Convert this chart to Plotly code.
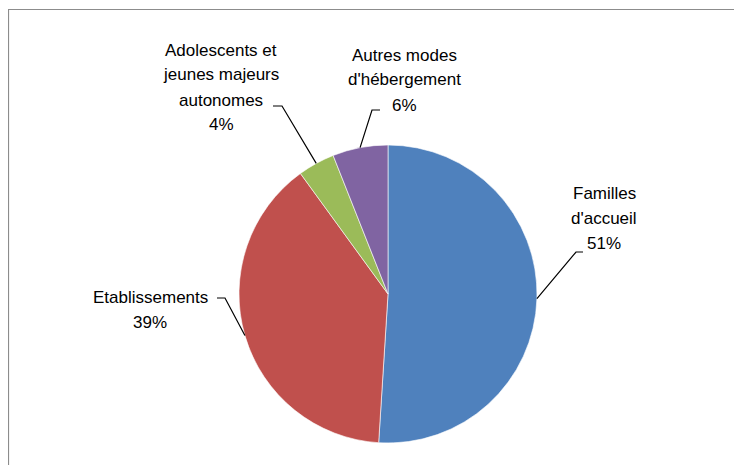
import math
import plotly.graph_objects as go

labels = ["Familles d'accueil", "Etablissements", "Adolescents et jeunes majeurs autonomes", "Autres modes d'hébergement"]
values = [51, 39, 4, 6]
label_lines = [["Familles", "d'accueil", "51%"],
               ["Etablissements", "39%"],
               ["Adolescents et", "jeunes majeurs", "autonomes", "4%"],
               ["Autres modes", "d'hébergement", "6%"]]
colors = ["#4F81BD", "#C0504D", "#9BBB59", "#8064A2"]

W, H = 742, 465
OFF = 8  # page offset of the plot div
CX, CY, R = 388, 294, 149

# label layout: (text center x, first line y), elbow (x, y), horizontal end x
label_pos = [(604, 193), (150, 297), (221, 50), (405, 55)]
elbows = [((576, 252), 583), ((225, 298), 217), ((282, 106), 273), ((372, 110), 380)]
LINE_H = 25

def px(x):
    return (x - OFF) / W

def py(y):
    return 1 - (y - OFF) / H

fig = go.Figure(go.Pie(
    labels=labels, values=values, sort=False, direction="clockwise", rotation=0,
    marker=dict(colors=colors, line=dict(color="white", width=0.6)),
    textinfo="none", hoverinfo="label+percent", showlegend=False,
    domain=dict(x=[px(CX - R), px(CX + R)], y=[py(CY + R), py(CY - R)]),
))

# chart-area frame: only its left and top edges fall inside the picture
frame = f"M {px(8.5)},{py(H + 40)} L {px(8.5)},{py(9.5)} L {px(W + 40)},{py(9.5)}"
shapes = [dict(type="path", xref="paper", yref="paper", path=frame,
               line=dict(color="#8C8C8C", width=1.2))]
annotations = []
total = sum(values)
cum = 0
for i, v in enumerate(values):
    mid = (cum + v / 2) / total * 2 * math.pi
    cum += v
    ex = CX + R * math.sin(mid)
    ey = CY - R * math.cos(mid)
    (bx, by), hx = elbows[i]
    path = f"M {px(ex)},{py(ey)} L {px(bx)},{py(by)} L {px(hx)},{py(by)}"
    shapes.append(dict(type="path", xref="paper", yref="paper", path=path,
                       line=dict(color="black", width=1.2)))
    tx, ty = label_pos[i]
    for j, line in enumerate(label_lines[i]):
        annotations.append(dict(x=px(tx), y=py(ty + j * LINE_H), xref="paper", yref="paper",
                                text=line, showarrow=False, xanchor="center", yanchor="middle",
                                font=dict(family="Liberation Sans, Arial", size=17, color="black")))

fig.update_layout(width=W, height=H, margin=dict(l=0, r=0, t=0, b=0),
                  paper_bgcolor="white", plot_bgcolor="white",
                  shapes=shapes, annotations=annotations)
fig.write_html("out.html")
